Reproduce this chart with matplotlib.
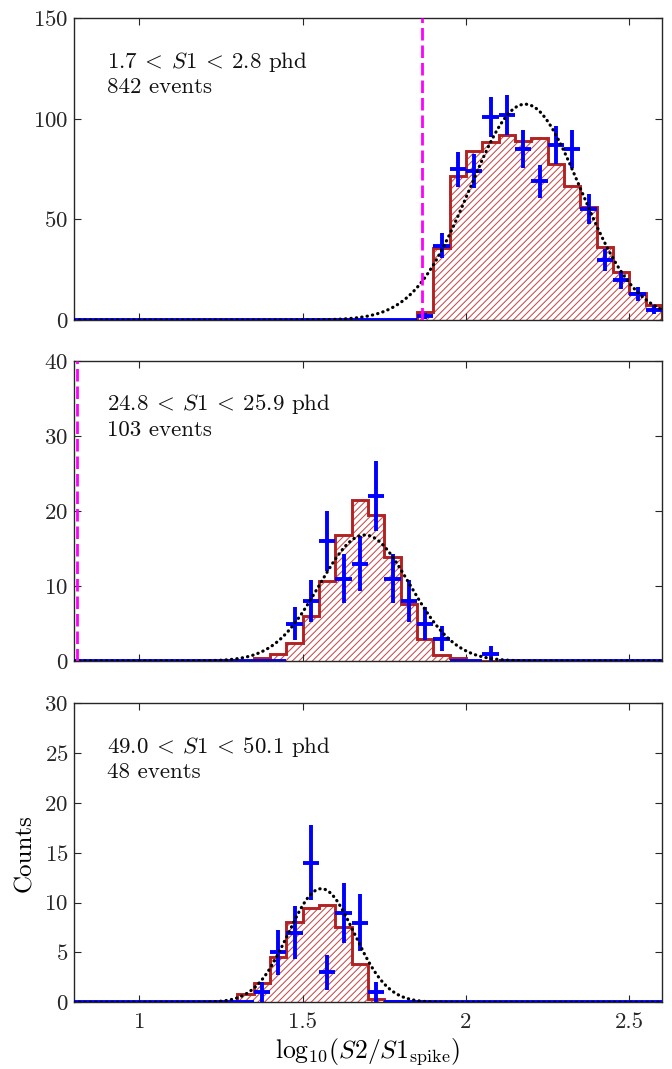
import numpy as np
import matplotlib
matplotlib.use("Agg")
import matplotlib.pyplot as plt

plt.rcParams['font.family'] = 'serif'
plt.rcParams['font.serif'] = ['cmr10', 'DejaVu Serif']
plt.rcParams['mathtext.fontset'] = 'cm'
plt.rcParams['axes.formatter.use_mathtext'] = True
plt.rcParams['hatch.linewidth'] = 0.75

# ---- data ----
bin_lo = 0.8
bin_width = 0.05
n_bins = 36

# panel 1: 1.7 < S1 < 2.8 phd
p1_label = r"$1.7\:<\:S1\:<\:2.8$ phd"
p1_events = "842 events"
p1_sim = [0]*21 + [3.8, 35.6, 71.4, 84.1, 88.3, 91.9, 89.1, 90.7, 77.5, 66.7,
                   56.3, 36.1, 24.0, 13.4, 7.5]
p1_data = [0]*21 + [2, 37, 75, 74, 101, 102, 85, 69, 87, 85, 55, 30, 20, 13, 5]
p1_fit = (107.3, 2.181, 0.170)
p1_cut = 1.866
p1_yticks = [0, 50, 100, 150]

# panel 2: 24.8 < S1 < 25.9 phd
p2_label = r"$24.8\:<\:S1\:<\:25.9$ phd"
p2_events = "103 events"
p2_sim = [0]*11 + [0.44, 0.9, 2.4, 6.0, 10.7, 16.8, 21.5, 19.5, 13.9, 7.6,
                   2.9, 0.8, 0.45] + [0]*12
p2_data = [0]*13 + [5, 8, 16, 11, 13, 22, 11, 8, 5, 3] + [0, 0, 1] + [0]*10
p2_fit = (16.8, 1.690, 0.138)
p2_cut = 0.81
p2_yticks = [0, 10, 20, 30, 40]

# panel 3: 49.0 < S1 < 50.1 phd
p3_label = r"$49.0\:<\:S1\:<\:50.1$ phd"
p3_events = "48 events"
p3_sim = [0]*10 + [0.87, 1.9, 4.5, 8.1, 9.5, 9.8, 7.6, 3.8, 0.33, 0.13] + [0]*16
p3_data = [0]*11 + [1, 5, 7, 14, 3, 9, 8, 1] + [0]*17
p3_fit = (11.4, 1.557, 0.101)
p3_cut = None
p3_yticks = [0, 5, 10, 15, 20, 25, 30]

xticks = [1, 1.5, 2, 2.5]
xtick_labels = ['1', '1.5', '2', '2.5']
xlim = (0.8, 2.6)

panels = [
    (p1_label, p1_events, p1_sim, p1_data, p1_fit, p1_cut, p1_yticks),
    (p2_label, p2_events, p2_sim, p2_data, p2_fit, p2_cut, p2_yticks),
    (p3_label, p3_events, p3_sim, p3_data, p3_fit, p3_cut, p3_yticks),
]

W, H = 672, 1069
fig = plt.figure(figsize=(W/100, H/100), dpi=100)
ax_rects = [
    (74/W, 1-320/H, 588/W, 301.7/H),
    (74/W, 1-661/H, 588/W, 300/H),
    (74/W, 1-1002.3/H, 588/W, 299/H),
]

edges = bin_lo + bin_width*np.arange(n_bins+1)
centers = 0.5*(edges[:-1] + edges[1:])
xfine = np.linspace(xlim[0], xlim[1], 600)

red = '#b22222'
hatch_red = '#cc4a4a'

for i, (lab, ev, sim, data, fit, cut, yt) in enumerate(panels):
    ax = fig.add_axes(ax_rects[i])
    sim = np.array(sim, float)
    data = np.array(data, float)
    ax.stairs(sim, edges, fill=True, hatch='/////', facecolor='none',
              edgecolor=hatch_red, linewidth=0, zorder=1)
    ax.stairs(sim, edges, color=red, linewidth=2.1, zorder=2)
    ax.errorbar(centers, data, yerr=np.sqrt(data), xerr=0.025, fmt='none',
                ecolor='#0000ff', elinewidth=2.8, capsize=0, zorder=3)
    A, mu, sig = fit
    ax.plot(xfine, A*np.exp(-(xfine-mu)**2/(2*sig**2)), color='black',
            linewidth=2.3, linestyle=(0, (0.1, 1.6)), dash_capstyle='round',
            zorder=4)
    if cut is not None:
        ax.axvline(cut, color='#ff00ff', linewidth=2.0, dashes=(4.5, 1.8),
                   zorder=5)
    ax.set_xlim(*xlim)
    ax.set_ylim(yt[0], yt[-1])
    ax.set_yticks(yt)
    ax.set_xticks(xticks)
    ax.tick_params(direction='in', top=True, right=True, length=5,
                   width=0.8, labelsize=16.5, colors='#262626',
                   labelcolor='#262626', pad=4)
    ax.tick_params(axis='x', pad=7)
    for s in ax.spines.values():
        s.set_color('#262626')
        s.set_linewidth(1.0)
    if i < 2:
        ax.set_xticklabels([])
    else:
        ax.set_xticklabels(xtick_labels)
        ax.set_xlabel(r"$\mathrm{log}_{10}(S2/S1_{\mathrm{spike}})$",
                      fontsize=18.5, labelpad=3)
        ax.set_ylabel("Counts", fontsize=18, labelpad=6)
    ax.text(0.056, 0.855, lab, transform=ax.transAxes, fontsize=16.5,
            va='center', ha='left', color='#111111')
    ax.text(0.056, 0.77, ev, transform=ax.transAxes, fontsize=16.5,
            va='center', ha='left', color='#111111')

fig.savefig("out.png", dpi=100)
